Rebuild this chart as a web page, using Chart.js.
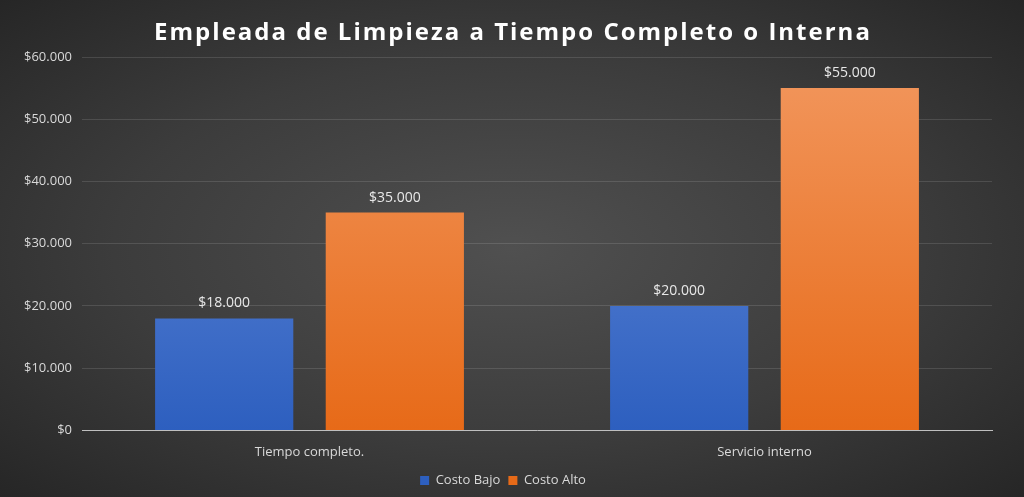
<!DOCTYPE html>
<html>
<head>
<meta charset="utf-8">
<script src="https://cdn.jsdelivr.net/npm/chart.js@4"></script>
<style>
  html, body { margin: 0; padding: 0; }
  body { width: 1024px; height: 497px; background: radial-gradient(ellipse at center, #505050 0%, #3c3c3c 55%, #262626 100%); }
  #wrap { position: relative; width: 1024px; height: 497px; }
</style>
</head>
<body>
<div id="wrap"><canvas id="chart"></canvas></div>
<script>
const categories = ['Tiempo completo.', 'Servicio interno'];
const costoBajo = [18000, 20000];
const costoAlto = [35000, 55000];
const seriesNames = ['Costo Bajo', 'Costo Alto'];
const titleText = 'Empleada de Limpieza a Tiempo Completo o Interna';

const fmt = v => '$' + v.toLocaleString('de-DE');

function grad(top, bottom) {
    return ctx => {
        const area = ctx.chart.chartArea;
        if (!area) return bottom;
        const g = ctx.chart.ctx.createLinearGradient(0, area.top, 0, area.bottom);
        g.addColorStop(0, top);
        g.addColorStop(1, bottom);
        return g;
    };
}

const valueLabels = {
    id: 'valueLabels',
    afterDatasetsDraw(chart) {
        const c = chart.ctx;
        c.save();
        c.font = '14px "Open Sans", sans-serif';
        c.fillStyle = '#e8e8e8';
        c.textAlign = 'center';
        c.textBaseline = 'bottom';
        chart.data.datasets.forEach((ds, i) => {
            chart.getDatasetMeta(i).data.forEach((bar, j) => {
                c.fillText(fmt(ds.data[j]), bar.x, bar.y - 8);
            });
        });
        c.restore();
    }
};

// spaced-out title, drawn by hand since the built-in title has no letter spacing
const spacedTitle = {
    id: 'spacedTitle',
    afterDraw(chart) {
        const c = chart.ctx;
        c.save();
        c.letterSpacing = '2px';
        c.font = 'bold 24px "Open Sans", sans-serif';
        c.fillStyle = '#ffffff';
        c.textAlign = 'center';
        c.textBaseline = 'middle';
        c.fillText(titleText, chart.width / 2 + 1, 33);
        c.restore();
    }
};

Chart.defaults.font.family = '"Open Sans", sans-serif';
Chart.defaults.color = '#d9d9d9';

new Chart(document.getElementById('chart'), {
    type: 'bar',
    data: {
        labels: categories,
        datasets: [
            { label: seriesNames[0], data: costoBajo, backgroundColor: grad('#6b90dc', '#2d5fbf') },
            { label: seriesNames[1], data: costoAlto, backgroundColor: grad('#f2975e', '#e76a18') }
        ]
    },
    options: {
        responsive: true,
        maintainAspectRatio: false,
        animation: false,
        layout: { padding: { left: 14, right: 32, top: 57, bottom: 0 } },
        datasets: { bar: { categoryPercentage: 0.75, barPercentage: 0.81 } },
        plugins: {
            title: { display: false },
            legend: {
                position: 'bottom',
                labels: { boxWidth: 9, boxHeight: 9, color: '#d9d9d9', font: { size: 13 }, padding: 8 }
            },
            tooltip: { enabled: false }
        },
        scales: {
            y: {
                min: 0, max: 60000,
                ticks: { stepSize: 10000, callback: v => fmt(v), color: '#d9d9d9', font: { size: 13 }, padding: 10 },
                grid: { color: 'rgba(255,255,255,0.12)', drawTicks: false },
                border: { display: false }
            },
            x: {
                ticks: { color: '#d9d9d9', font: { size: 13 }, padding: 6 },
                grid: { display: false },
                border: { color: '#bfbfbf' }
            }
        }
    },
    plugins: [valueLabels, spacedTitle]
});
</script>
</body>
</html>
